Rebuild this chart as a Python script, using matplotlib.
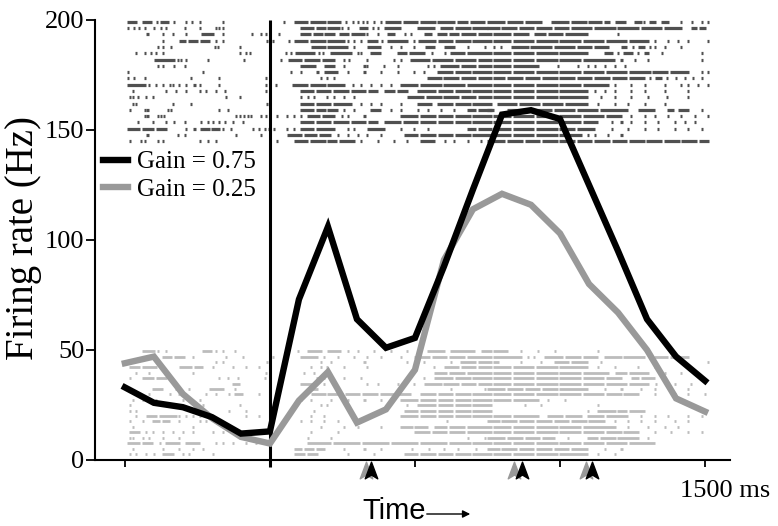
import matplotlib
matplotlib.use('Agg')
import matplotlib.pyplot as plt
from matplotlib.path import Path

plt.rcParams['font.family'] = ['Liberation Serif', 'DejaVu Serif']

# firing rate curves, 100 ms bins (ms relative to stimulus)
t_bins = [-500, -400, -300, -200, -100, 0, 100, 200, 300, 400, 500,
          600, 700, 800, 900, 1000, 1100, 1200, 1300, 1400, 1500]
rate_gain_075 = [33, 26, 24, 19.5, 12, 13, 73, 106, 64, 51, 55.5,
                 88, 123, 157, 159, 155, 125, 95, 64, 47, 36]
rate_gain_025 = [44, 47, 30, 19, 10.5, 7.5, 27, 40, 17, 23, 41,
                 91, 114, 121, 116, 103, 80, 67, 50, 28, 22]

# arrow marks under the time axis (ms)
arrows_075 = [350, 870, 1110]
arrows_025 = [330, 840, 1090]

# spike rasters in 20 ms bins starting at -500 ms
# "a-b" = burst of spikes from bin a to bin b, single number = one spike
raster_gain_075 = [
    "0-1.5 2.5-4 5 5.7-7 8 10 11 12.5 16.4 27 28.7-31 31.5-34 34.5-36.7 37.6 38.8 39.6 40.5 41.3 42.5 43.6 44.5-47 47.5-50 50.5-53 53.4-56.3 56.9-58.5 59-61.5 62-65 65.5-68 68.5-71.3 73-76 76.5-79 79.5-81.6 82.2-83 84-85.7 87.4-88.5 89 90-91 92-93.1 95.4 97.2 98.9 100",
    "0 1 2 3 4.6 5.7 6.6 9.8 12.4 15.2 15.8 16.4 29.8-32 32.5-34 34.5-36.5 37 37.9 39.9-41.3 42.2 43.1 44.2-47 50-52.8 54-56 56.5-59 59.5-62 62-64 64.5-67 67.5-70 70.5-73 73.5-76 76.5-80 80.5-84 84.5-88 88.5-92 92.5-95.4 97.2-98 98.5-99.5",
    "3.4 6 7.8 10 12.8-14.7 16.4 21.4 23 23.9 26 29.8-31.5 32-33.5 34-35.6 36.5-38 38.5-40.8 41.3 43.1 44.8-46 47.7 48.8 51.1-52.3 53.4-55 55.5-57 57.5-60 60.5-62.6 63-66 66.5-69 70.1-72 72.5-75 75.5-79.3 84.5",
    "6 8.9-10 10.5-12 12.5-14 15.2 16.4 24 25 27.8 28.7-31 31.5-34 34.5-37.3 37.9 39 40.2 41.3-43.1 43.9 44.8-48.2 49.4 50.2-53 53.5-56 56.5-59 59.5-62.6 63-66 66.5-70 70.5-74 74.5-78 78.5-82 82.5-86 86.5-89.7 90.8 93.1 94.9 96.6 100",
    "5.2 6 7.5 15 15.5 19.3 31.6-34 34.5-37.9 39 41.3-43.6 45.4 47.1 49.4 51.4-52.8 54.6-56.3 58.6 61.5 63.2 64.4 66.1-69 69.5-73 73.5-77 77.5-80 80.5-82.8 85.1-86 87 88-89 90 90.8 92.6 95.4",
    "1.4 2.9 4 4.9 6 19.3 20.4 21 27.3 28.1 29-32.1 33 33.6 35-38.5 39.6 40.2 41.9-43.6 46.5-48 48.5-51.1 52.5 54.6 55.7-58 58.5-62.6 63-66 66.5-70 70.5-74 74.5-79.3 82.2-83.5 84.5 85.5-87 88 89-89.7 92 98.9",
    "4.6-8 8.6 9.2 10 13.8 20.1 26.4 27.8-30 30.5-33 33.5-35.6 37.3 38.2 41.3 45.9 47.1 48.8-52 52.5-56 56.5-60 60.5-62.6 63-66 66.5-70 70.5-74 74.5-78 78.5-83.9 85.1 87.4 89.7 98.9",
    "5.2 6 8 9.8 29.8-32.4 33.9-35.6 37.3 40.8 41.3 44.2 46.5 51.7 52.8 54-57 57.5-60 60.5-62.6 63-66 66.5-70.7 74.2 77.6 79.3 80.5 82.2 83.9 85.7",
    "0 13 28.1 29.8 32.7 33.9-36.2 37.9 40.8 43.6 46.5 49.4 51.1 53.4-56 56.5-59 59.5-62.6 63-66 66.5-70 70.5-74 74.5-78 78.5-82 82.5-86 86.5-90 90.5-93 93.5-96.6 98.9 100",
    "0 1.1 2.9 10.9 15.8 23.9 33.3 34.4 35.6 51.7-54 54.5-57 57.5-60 60.5-62.6 63-65 65.5-68 68.5-71 71.5-74 74.5-77 77.5-80 80.5-83 83.5-86 86.5-89 90 91-92 93 94.5 96 97.5 99",
    "0-3 3.7 4.9 6 7.2 7.8 8.9 10 11.5 12.4 15.8 23.9 25.5 28.4-31 31.5-34 34.5-37.3 38.8 40.2 41.9 43.6 45.4 47.1-50 50.5-54 54.5-58 58.5-62.6 63-66 66.5-70 70.5-74 74.5-78 78.5-82.8 84 86.8 89.1 92.6 95.4 96.6 98.3 100",
    "0.9 6.6 8.3 10 12.4 13.5 15.2 16.7 23.9 29.8-32 32.5-35 35.5-38 38.5-41 41.5-43.1 44.2-46 46.5-48.2 50-53 53.5-56 56.5-59 59.5-62.6 63-66 66.5-70 70.5-74 74.5-79.3 80.5 82.2 84 86.8 89.1 92.6 96.6",
    "0.3 0.9 1.7 3.2 4.3 17 19.3 29.8 31 32.1 34.4 35.6 37.3 39 48.2-51 51.5-54 54.5-57 57.5-60 60.5-62.6 63-66 66.5-70 70.5-74 74.5-79.3 81.5 84 86.8 89.7 93 96.6",
    "0.9 1.4 7.8 10.9 24 29.8-32 32.5-35 35.5-38.5 40.2 41.9 43.6 47.1 50-52.3 53.4-56 56.5-59 59.5-62.6 63.8-67 67.5-71 71.5-75 75.5-79.3 81 84 86.2 89.1 92.6",
    "0.3 2.9 3.4 6.9 7.5 15.8 17.2 29.8-32 32.5-34 34.5-36.2 37.3 39 41.9-43.6 45.4 47.1 50 51.7 54 56.3 58.6-60 60.5-62.6 62-63 65.5-69 69.5-73 73.5-77 77.5-81 81.5-86.2 88-90.8 93.1-94 95-96.6 98.9",
    "2.9 3.4 5.2 5.7 6.3 18.7 19.3 20.1 20.7 21.3 23 23.9 25.8 27.5 28.7 29.8 31-33 33.5-35.6 37 37.9 40.8 47.1-50 50.5-53 53.5-56 56.5-59 59.5-62.6 63-66 66.5-70 70.5-74 74.5-78 78.5-82 82.5-85.1 86.8 89.1 90.8 93.1 95.4 97.7 100",
    "1.7 4.3 6.6 8 9.8 12.6 13.8 14.7 15.8 16.7 18.1 19.8 29.8-32 32.5-35 35.5-38 38.5-41 41.5-43.1 44.2-47 47.5-50 50.5-53 53.5-56 56.5-59 59.5-62.6 63-66 66.5-70 70.5-74 74.5-78 78.5-81 83.4 85.1 86.8 89.1 91.4 94.3 96 97.7",
    "0-2 2.5-4.5 5-6.6 10 11.5 12.6-14 14.5-15.8 16.4 17.8 21.6 22.7 23.6 24.4 25.2 27.5 28.7 29.8-32 32.5-35.6 37.9 39 41.3-44.2 47.1 49.4 51.7 58.6-60 60.5-62.6 63-66 66.5-70 70.5-74 74.5-77 77.5-80.5 83.4 86.2 89.1 91.4 94.3 96.6 98.9",
    "3.4 8.6 9.8 18.7 23 27.5-30 30.5-32.5 33-35 36.2 37.9 39.6 41.3 43.6 47.7-50 50.5-53 53.5-56 56.5-59 59.5-62.6 63-66 66.5-70 70.5-74 74.5-78.2 79.3 80.5 82.8 85.1",
    "0.3 2.3 2.9 5.2 6 12.4 13.8 15.2 25.8 28.7-31 31.5-34 34.5-36 36.5-39 40.2 43.1 45.9 48.2 50.5-52.8 54.6 56.3 58.6 60.9 62-65 65.5-68 68.5-71 71.5-74 74.5-77 77.5-80 80.5-83 83.5-86 86.5-89 89.5-92 92.5-95 95.5-98 98.5-100",
]
raster_gain_025 = [
    "2.6-4.6 5.2 6.6 12.9-14.4 15.2 16.4 18.4 29.3 31-33.3 34.4-36.7 37.9 39.6 42.5 45.4 48.2 51.7-54.6 55.7-59.7 60.9-62.6 63-65.5 67.8 70.7 73.6 81",
    "6-7.5 8-9.8 11.2 17 19.8 25 29.8-32.7 33.9 36.2 39 41.3 43.6 47.1 49.4-52 52.5-55 55.5-58 58.5-62.6 63-67.8 69 70.1 71.9-75 75.5-78 78.5-81 82.2-85 85.5-89.1 90.3 90.8-93 93.5-96.6",
    "15.2 16.4 24 33.3 35 40.8 48.2 51.1 55.7 57.4-60 60.5-62.6 63-63.8 67.8 71.3 73.6-76 76.5-79.3 81.6 100",
    "0.3-2 2.5-4.9 8.9-11 11.5-12.9 14.7 18.1 20.4 22.7 31.6 33.3 34.4 37.3 41.3 49.4 52.8 54.6-57 57.5-60 60.5-62.6 63-66 66.5-70 70.5-74 74.5-79.3 81 84 88 90.8",
    "1.4 3.7 11.2 23.9 30.4 32.1 52.8-55 55.5-58 58.5-62.6 63-66 66.5-70 70.5-74 74.5-78 78.5-82.8 84-86 86.5-89.7 92.6 95.4",
    "0.3 2.6-4.5 5-6.6 15.8 17.2 19 23.6 32.7 33.9 37.3 40.2 51.1 52.8-56 56.5-59 59.5-62.6 63-66 66.5-70 70.5-74 74.5-78 78.5-82 82.5-85.1 86.8-88 88.5-90.8",
    "18.1-19.3 29.8-32.1 33.9 41.3 43.1 46.5 49.4 51.1-54 54.5-57 57.5-60 60.5-62.6 63-66 66.5-70 70.5-74 74.5-78 78.5-82 82.5-86 86.5-89.7 91 94.3 97",
    "4.3-6 8.3 10.6 14.1-16.4 18.4 31.6-32.7 55.7 61.5 62-65 65.5-68 68.5-71 71.5-74 74.5-79.3 82.2 85.1 88.5 90.8 93.7 96.6",
    "1.4 3.7 7.2 8.9 13.5 15.2 17.5 18.4-19.8 22.7 31.6-34 34.5-37 37.5-40 40.5-43 43.5-46 46.5-48.8 50.5-53 53.5-56 56.5-59 59.5-62.6 63-66 66.5-70 70.5-74 74.5-78 78.5-82 82.5-85 85.5-88 90.8 94.3 96.6 99.5",
    "0.9 2.6 4.9 9.5 12.4 29.8 31.6 35 37.9 40.8 43.6 45.4 47.1-50 50.5-53 53.5-56 56.5-59 59.5-62.6 63-66 66.5-70.7 72.4 75.3",
    "0.3 12.9 19.3 33.3 34.4 48.2 50-53 53.5-56 56.5-59 59.5-62.6 68.4 71.3 81",
    "0.3 1.4 17.5 20.4 32.1 47.7-50 50.5-53 53.5-56 56.5-59 59.5-62.6 79.3 81-84 84.5-86 86.5-89.1",
    "1.4 3.2-5 5.5-8.3 8.9 10 11.2 12.4 20.4 22.7 31.6 33.9 47.1-50 50.5-53 53.5-56 56.5-59 59.5-62.6 63-66 66.5-70.7 72.4-75 75.5-78.2 79.3-82 82.5-86.2 88.5 90.8 93.1 96.6 98.9",
    "0.3 2.6 4.3-5.5 6-7.2 8.9 12.4 13.5 29.8 31.6 33.9 36.2 55.1 62-64 64.5-67 67.5-70 70.5-73 73.5-76 76.5-79 79.5-82.2 84 86.2 88.5 90.8 94.3 96.6",
    "0.9 11.2 33.3 37.3 39.6 43.6 47.1-49 49.5-51.7 52.8-55 55.5-58 58.5-62.6 63-66 66.5-70 70.5-74 74.5-78 78.5-84 86.2 89.7 92.6 94.9",
    "0.3-2 3.2 4.3 6 7.8 9.5 11.2 14.7 16.4 18.7 31.6 36.2 49.4-52 52.5-55 55.5-58 58.5-62.6 63-66 66.5-70 70.5-74 74.5-78 78.5-82 82.5-85 85.5-88 90.8 93.7 96.6 98.9",
    "0.3 0.9 2.6 3.7 6 8.9 31 35 58.6 61.5 62-65 65.5-68 68.5-71 71.5-73.6 75.9 79.3-81 81.5-84 84.5-88 89.7",
    "0-2 2.5-4.3 5.5 6.6-8.9 10-12.4 15.2 16.4 18.1 20.4 22.1 31-35 35.5-40 40.5-45 45.5-50 50.5-55 55.5-59 59.5-62.6 63-66 66.5-70 70.5-74 74.5-78 78.5-82 82.5-86 86.5-90.8",
    "0.9 6 8.9 11.2 12.9 28.7-30 30.5-32 32.5-33.9 37.3 40.8 43.6 49 52 54.5 57 60 62-64 64.5-67 67.5-70 70.5-73 73.5-76 76.5-79.3 82.2 85.1",
    "0.3 1.4 3.2 4.6 6-7.8 9.5 10.6 14.7 28.7-30.5 31-32.7 37.9 42.5 47.7-50 50.5-53 53.5-56 56.5-59 59.5-62.6 63-66 66.5-70 70.5-74 74.5-79.3 81 84",
]


def bin_to_ms(b):
    return -490 + 20 * float(b)


def draw_raster(ax, rows, y_top, dy, color, lw):
    for i, row in enumerate(rows):
        y = y_top - i * dy
        starts, ends = [], []
        for tok in row.split():
            if '-' in tok:
                a, b = tok.split('-')
                starts.append(bin_to_ms(a) - 2)
                ends.append(bin_to_ms(b) + 2)
            else:
                starts.append(bin_to_ms(tok) - 3.5)
                ends.append(bin_to_ms(tok) + 3.5)
        ax.hlines([y] * len(starts), starts, ends, colors=color,
                  linewidth=lw, capstyle='butt', zorder=1)


fig = plt.figure(figsize=(7.78, 5.26), dpi=100)
ax = fig.add_axes([95 / 778, 1 - 460 / 526, 635 / 778, 440 / 526])

draw_raster(ax, raster_gain_075, 199.2, 2.86, '#505050', 2.3)
draw_raster(ax, raster_gain_025, 49.5, 2.46, '#bcbcbc', 2.0)

ax.vlines(0, -3.2, 200, colors='black', linewidth=2.2, clip_on=False, zorder=2)

ax.plot(t_bins, rate_gain_025, color='#999999', lw=4.6, zorder=3,
        solid_joinstyle='miter', label='Gain = 0.25')
ax.plot(t_bins, rate_gain_075, color='black', lw=4.6, zorder=4,
        solid_joinstyle='miter', label='Gain = 0.75')

arrow_head = Path([(0, 1), (0.75, -1), (0, -0.55), (-0.75, -1), (0, 1)],
                  [Path.MOVETO, Path.LINETO, Path.LINETO, Path.LINETO, Path.CLOSEPOLY])
ax.plot(arrows_025, [-4.5] * 3, ls='none', marker=arrow_head, ms=12,
        color='#999999', clip_on=False, zorder=5)
ax.plot(arrows_075, [-4.5] * 3, ls='none', marker=arrow_head, ms=12,
        color='black', clip_on=False, zorder=6)

ax.set_xlim(-603, 1586)
ax.set_ylim(0, 200)
ax.set_xticks([-500, 0, 500, 1000, 1500])
ax.set_xticklabels([])
ax.set_yticks([0, 50, 100, 150, 200])
ax.tick_params(axis='y', length=6.5, width=1.3, pad=1, labelsize=19)
ax.tick_params(axis='x', length=5, width=1.3)
for side in ['top', 'right']:
    ax.spines[side].set_visible(False)
for side in ['left', 'bottom']:
    ax.spines[side].set_linewidth(1.5)

handles, labels = ax.get_legend_handles_labels()
ax.legend(handles[::-1], labels[::-1], loc='upper left',
          bbox_to_anchor=(103 / 778, 1 - 151 / 526), bbox_transform=fig.transFigure,
          frameon=False, fontsize=18, handlelength=1.0, handletextpad=0.35,
          labelspacing=0.2, borderpad=0, borderaxespad=0)

fig.text(24 / 778, 1 - 238 / 526, 'Firing rate (Hz)', rotation=90,
         ha='center', va='center', fontsize=28)
fig.text(680 / 778, 1 - 497 / 526, '1500 ms', ha='left', va='baseline', fontsize=19)
fig.text(362 / 778, 1 - 519 / 526, 'Time', ha='left', va='baseline', fontsize=21,
         family=['Liberation Sans', 'DejaVu Sans'])
fig.add_artist(matplotlib.patches.FancyArrowPatch(
    (424 / 778, 1 - 514 / 526), (473 / 778, 1 - 514 / 526),
    transform=fig.transFigure, arrowstyle='-|>', mutation_scale=11,
    lw=1.0, color='black'))

fig.savefig('out.png', dpi=100)
